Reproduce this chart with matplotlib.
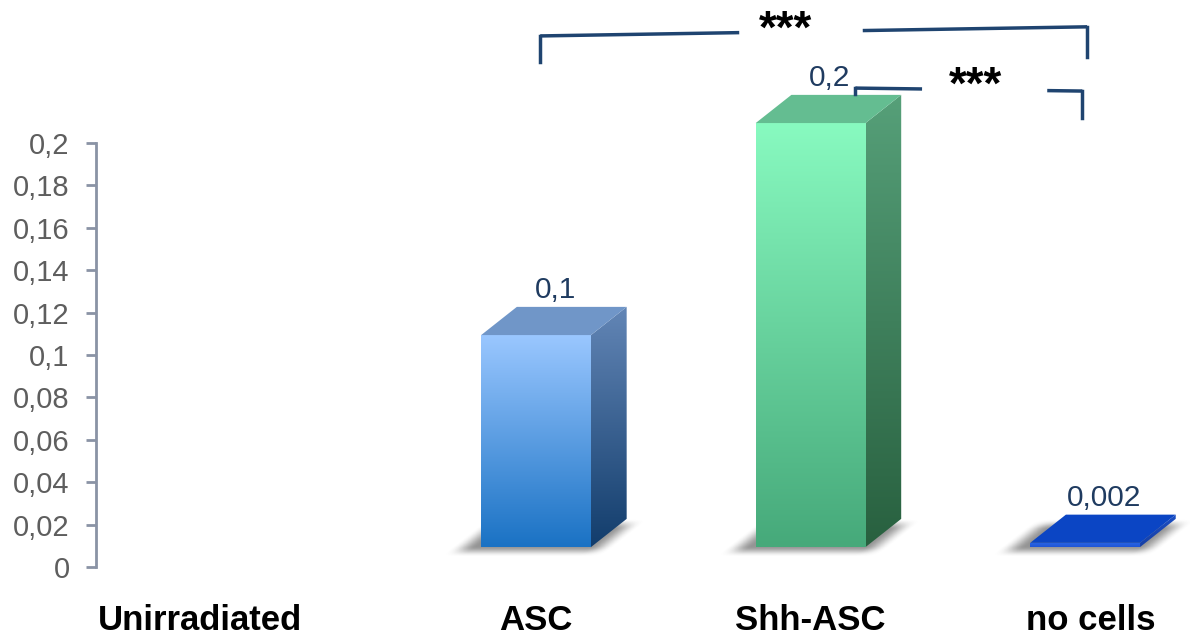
import numpy as np
import matplotlib
matplotlib.use('Agg')
import matplotlib.pyplot as plt
from matplotlib.patches import Polygon
from matplotlib.colors import LinearSegmentedColormap
from matplotlib.ticker import FuncFormatter

plt.rcParams['font.family'] = ['Liberation Sans', 'DejaVu Sans']

# Данные
categories = ['Unirradiated', 'ASC', 'Shh-ASC', 'no cells']
values = [None, 0.1, 0.2, 0.002]
value_labels = ['', '0,1', '0,2', '0,002']
yticks = [0, 0.02, 0.04, 0.06, 0.08, 0.1, 0.12, 0.14, 0.16, 0.18, 0.2]

# Цвета граней: (перед верх, перед низ, бок верх, бок низ, верх)
face_colors = [
    None,
    ('#9AC7FF', '#1A72C4', '#6386B6', '#123D6C', '#7096C8'),
    ('#88FAC0', '#46A97A', '#56A079', '#28603F', '#64BD91'),
    ('#2A66E6', '#1F55D6', '#1C4FC4', '#163FA6', '#0B45C4'),
]

# Параметры "объёма" столбцов
W = 0.40       # ширина передней грани
DX = 0.13      # глубина по x
DY = 0.0133    # глубина по y
BASE = 0.0094  # уровень пола

fig = plt.figure(figsize=(11.9, 6.37), dpi=100)
ax = fig.add_axes([96 / 1190, 70 / 637, 1 - 96 / 1190, 567 / 637])


def grad_poly(verts, c_top, c_bot, z):
    poly = Polygon(verts, closed=True, facecolor='none', edgecolor='none')
    ax.add_patch(poly)
    xs = [v[0] for v in verts]
    ys = [v[1] for v in verts]
    cmap = LinearSegmentedColormap.from_list('g', [c_bot, c_top])
    grad = np.linspace(0, 1, 256).reshape(-1, 1)
    im = ax.imshow(grad, cmap=cmap, extent=[min(xs), max(xs), min(ys), max(ys)],
                   origin='lower', aspect='auto', zorder=z, interpolation='bilinear')
    im.set_clip_path(poly)


def smooth(t):
    t = np.clip(t, 0, 1)
    return t * t * (3 - 2 * t)


def shadow(xl, xr, yb, z):
    # размытая тень от основания столбца (скошенный прямоугольник)
    x0, x1 = xl - 0.2, xr + DX + 0.15
    y0, y1 = yb - 0.012, yb + DY + 0.01
    gx, gy = np.meshgrid(np.linspace(x0, x1, 300), np.linspace(y0, y1, 100))
    u = gx - (gy - yb) / DY * DX
    su, sy = 0.09, 0.005
    au = smooth((u - (xl - 0.06)) / su + 0.5) * smooth(((xr + 0.04) - u) / su + 0.5)
    ay = smooth((gy - (yb - 0.0022)) / sy + 0.5) * smooth(((yb + DY * 0.8) - gy) / sy + 0.5)
    img = np.zeros(gx.shape + (4,))
    img[..., :3] = 0.3
    img[..., 3] = au * ay * 0.6
    ax.imshow(img, extent=[x0, x1, y0, y1], origin='lower', aspect='auto',
              zorder=z, interpolation='bilinear')


for i, v in enumerate(values):
    if v is None:
        continue
    ft, fb, st, sb, tc = face_colors[i]
    xl, xr = i - W / 2, i + W / 2
    yb, yt = BASE, BASE + v
    shadow(xl, xr, yb, 1)
    # передняя грань
    grad_poly([(xl, yb), (xr, yb), (xr, yt), (xl, yt)], ft, fb, 3)
    # боковая грань
    grad_poly([(xr, yb), (xr + DX, yb + DY), (xr + DX, yt + DY), (xr, yt)], st, sb, 2)
    # верхняя грань
    ax.add_patch(Polygon([(xl, yt), (xr, yt), (xr + DX, yt + DY), (xl + DX, yt + DY)],
                         closed=True, facecolor=tc, edgecolor='none', zorder=4))
    ax.text(i + DX / 2 + 0.005, yt + DY + 0.0012, value_labels[i], ha='center', va='bottom',
            fontsize=21.5, color='#1F3B60', zorder=6)

# Скобки значимости
bc = '#1F4470'


def bracket(xa, xb, ya, yb, gap0, gap1, drop_l, drop_r, y_star, xs):
    t0 = (gap0 - xa) / (xb - xa)
    t1 = (gap1 - xa) / (xb - xa)
    ax.plot([xa, gap0], [ya, ya + (yb - ya) * t0], color=bc, lw=2.5, zorder=5,
            solid_capstyle='butt')
    ax.plot([gap1, xb], [ya + (yb - ya) * t1, yb], color=bc, lw=2.5, zorder=5,
            solid_capstyle='butt')
    if drop_l:
        ax.plot([xa, xa], [ya, ya - drop_l], color=bc, lw=2.5, zorder=5)
    if drop_r:
        ax.plot([xb, xb], [yb, yb - drop_r], color=bc, lw=2.5, zorder=5)
    ax.text(xs, y_star, '***', ha='center', va='center', fontsize=33,
            fontweight='bold', color='black', zorder=6)


bracket(1.015, 3.0073, 0.2505, 0.2548, 1.74, 2.19, 0.0125, 0.014, 0.2530, 1.907)
bracket(2.163, 2.99, 0.2259, 0.2245, 2.406, 2.862, 0.003, 0.0125, 0.2265, 2.6)

# Оси
ax.set_xlim(-0.603, 3.382)
ax.set_ylim(0, 567 / 2120)
for s in ['top', 'right', 'bottom']:
    ax.spines[s].set_visible(False)
ax.spines['left'].set_bounds(0, 0.2)
ax.spines['left'].set_color('#8A93A5')
ax.spines['left'].set_linewidth(2)
ax.set_yticks(yticks)
ax.yaxis.set_major_formatter(FuncFormatter(lambda v, p: f'{v:g}'.replace('.', ',')))
ax.tick_params(axis='y', length=7, width=2, color='#8A93A5', pad=12,
               labelsize=21, labelcolor='#5E5E5E')
ax.set_xticks([-0.224, 1, 2, 3.02])
ax.set_xticklabels(categories, fontsize=25, fontweight='bold')
ax.tick_params(axis='x', length=0, pad=27)

fig.savefig('out.png', dpi=100)
